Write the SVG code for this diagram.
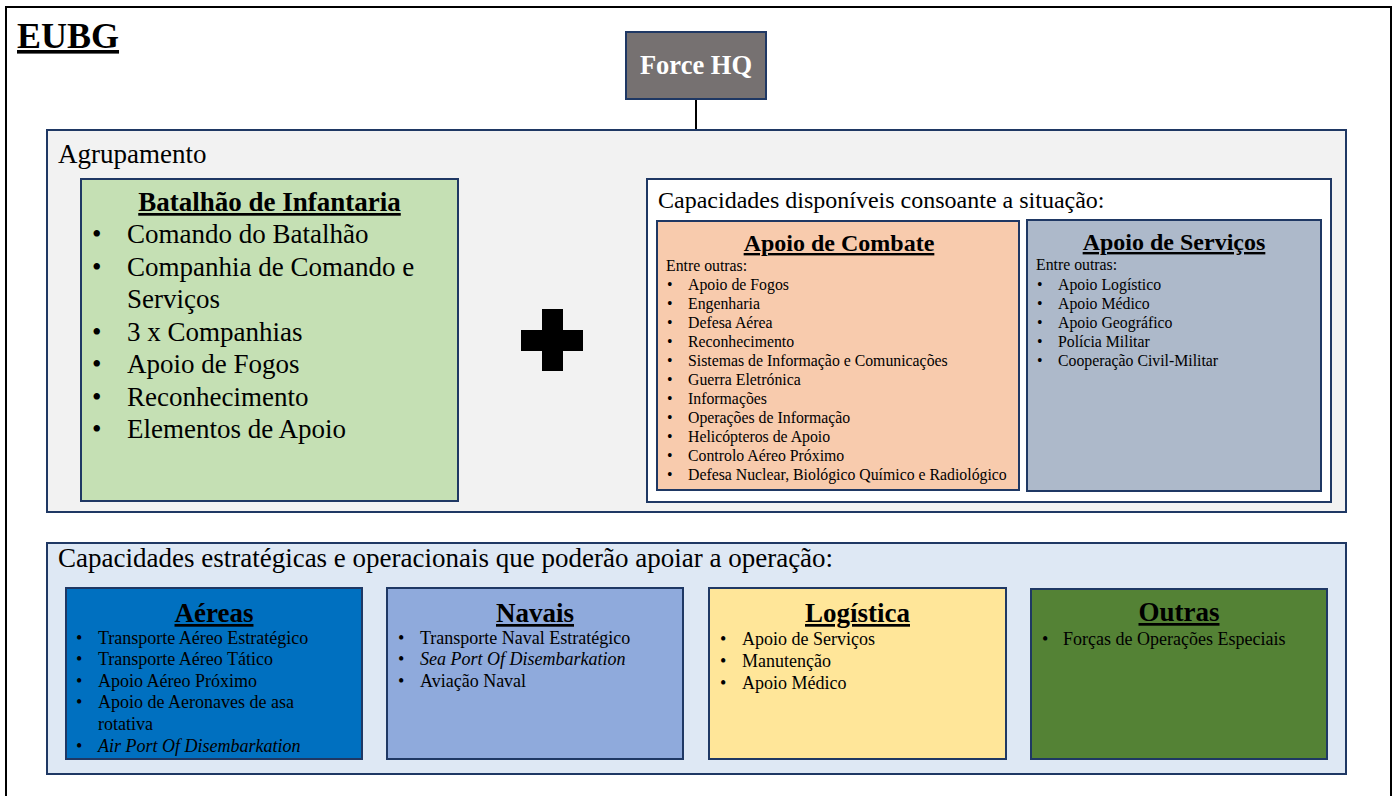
<svg xmlns="http://www.w3.org/2000/svg" width="1395" height="796" viewBox="0 0 1395 796">
<style>
text{font-family:"Liberation Serif","Times New Roman",serif;fill:#000}
.box{stroke:#1f3864;stroke-width:2}
.b{font-weight:bold}
.u{text-decoration:underline}
.big{font-size:27px}
.tt{font-size:27px}
.med{font-size:18px}
.sm{font-size:15.8px}
.c{text-anchor:middle}
.i{font-style:italic}
</style>
<rect x="6" y="7" width="1385" height="800" fill="#fff" stroke="#000" stroke-width="2"/>
<g id="title"><text x="17" y="48" class="b u" style="font-size:36px">EUBG</text></g>
<g id="connectors"><line x1="696" y1="99" x2="696" y2="130" stroke="#000" stroke-width="2"/></g>
<g id="forcehq">
<rect x="626" y="32" width="140" height="67" fill="#767171" class="box"/>
<text x="696" y="74" class="b c" style="font-size:26.5px;fill:#fff">Force HQ</text>
</g>
<g id="agrupamento">
<rect x="47" y="130" width="1299" height="382" fill="#f2f2f2" class="box"/>
<text x="58" y="163" class="big">Agrupamento</text>
</g>
<g id="batalhao">
<rect x="81" y="179" width="377" height="322" fill="#c5e0b4" class="box"/>
<text x="269.5" y="211" class="b u c tt">Batalhão de Infantaria</text>
<g class="big">
<text x="92" y="243">•</text><text x="127" y="243">Comando do Batalhão</text>
<text x="92" y="276">•</text><text x="127" y="276">Companhia de Comando e</text>
<text x="127" y="308">Serviços</text>
<text x="92" y="341">•</text><text x="127" y="341">3 x Companhias</text>
<text x="92" y="373">•</text><text x="127" y="373">Apoio de Fogos</text>
<text x="92" y="406">•</text><text x="127" y="406">Reconhecimento</text>
<text x="92" y="438">•</text><text x="127" y="438">Elementos de Apoio</text>
</g>
</g>
<g id="plus">
<rect x="542" y="309" width="21" height="62" fill="#000"/>
<rect x="521" y="330" width="62" height="21" fill="#000"/>
</g>
<g id="capacidades">
<rect x="647" y="179" width="684" height="323" fill="#fff" class="box"/>
<text x="658" y="208" style="font-size:24px">Capacidades disponíveis consoante a situação:</text>
</g>
<g id="apoiocombate">
<rect x="657" y="221" width="362" height="269" fill="#f8cbad" class="box"/>
<text x="839" y="251" class="b u c" style="font-size:24px">Apoio de Combate</text>
<g class="sm">
<text x="666" y="271">Entre outras:</text>
<text x="667" y="290">•</text><text x="688" y="290">Apoio de Fogos</text>
<text x="667" y="309">•</text><text x="688" y="309">Engenharia</text>
<text x="667" y="328">•</text><text x="688" y="328">Defesa Aérea</text>
<text x="667" y="347">•</text><text x="688" y="347">Reconhecimento</text>
<text x="667" y="366">•</text><text x="688" y="366">Sistemas de Informação e Comunicações</text>
<text x="667" y="385">•</text><text x="688" y="385">Guerra Eletrónica</text>
<text x="667" y="404">•</text><text x="688" y="404">Informações</text>
<text x="667" y="423">•</text><text x="688" y="423">Operações de Informação</text>
<text x="667" y="442">•</text><text x="688" y="442">Helicópteros de Apoio</text>
<text x="667" y="461">•</text><text x="688" y="461">Controlo Aéreo Próximo</text>
<text x="667" y="480">•</text><text x="688" y="480">Defesa Nuclear, Biológico Químico e Radiológico</text>
</g>
</g>
<g id="apoioservicos">
<rect x="1027" y="220" width="294" height="271" fill="#adb9ca" class="box"/>
<text x="1174" y="250" class="b u c" style="font-size:24px">Apoio de Serviços</text>
<g class="sm">
<text x="1036" y="270">Entre outras:</text>
<text x="1037" y="290">•</text><text x="1058" y="290">Apoio Logístico</text>
<text x="1037" y="309">•</text><text x="1058" y="309">Apoio Médico</text>
<text x="1037" y="328">•</text><text x="1058" y="328">Apoio Geográfico</text>
<text x="1037" y="347">•</text><text x="1058" y="347">Polícia Militar</text>
<text x="1037" y="366">•</text><text x="1058" y="366">Cooperação Civil-Militar</text>
</g>
</g>
<g id="estrategicas">
<rect x="47" y="543" width="1299" height="231" fill="#dee8f4" class="box"/>
<text x="58" y="567" style="font-size:27px">Capacidades estratégicas e operacionais que poderão apoiar a operação:</text>
</g>
<g id="aereas">
<rect x="66" y="588" width="296" height="171" fill="#0070c0" class="box"/>
<text x="214" y="622" class="b u c tt">Aéreas</text>
<g class="med">
<text x="76" y="644">•</text><text x="98" y="644">Transporte Aéreo Estratégico</text>
<text x="76" y="665">•</text><text x="98" y="665">Transporte Aéreo Tático</text>
<text x="76" y="687">•</text><text x="98" y="687">Apoio Aéreo Próximo</text>
<text x="76" y="708">•</text><text x="98" y="708">Apoio de Aeronaves de asa</text>
<text x="98" y="730">rotativa</text>
<text x="76" y="752">•</text><text x="98" y="752" class="i">Air Port Of Disembarkation</text>
</g>
</g>
<g id="navais">
<rect x="387" y="588" width="296" height="171" fill="#8faadc" class="box"/>
<text x="535" y="622" class="b u c tt">Navais</text>
<g class="med">
<text x="398" y="644">•</text><text x="420" y="644">Transporte Naval Estratégico</text>
<text x="398" y="665">•</text><text x="420" y="665" class="i">Sea Port Of Disembarkation</text>
<text x="398" y="687">•</text><text x="420" y="687">Aviação Naval</text>
</g>
</g>
<g id="logistica">
<rect x="709" y="588" width="297" height="171" fill="#ffe699" class="box"/>
<text x="857.5" y="622" class="b u c tt">Logística</text>
<g class="med">
<text x="720" y="645">•</text><text x="742" y="645">Apoio de Serviços</text>
<text x="720" y="667">•</text><text x="742" y="667">Manutenção</text>
<text x="720" y="689">•</text><text x="742" y="689">Apoio Médico</text>
</g>
</g>
<g id="outras">
<rect x="1031" y="589" width="296" height="170" fill="#548235" class="box"/>
<text x="1179" y="621" class="b u c tt">Outras</text>
<g class="med">
<text x="1042" y="645">•</text><text x="1063" y="645">Forças de Operações Especiais</text>
</g>
</g>
</svg>
